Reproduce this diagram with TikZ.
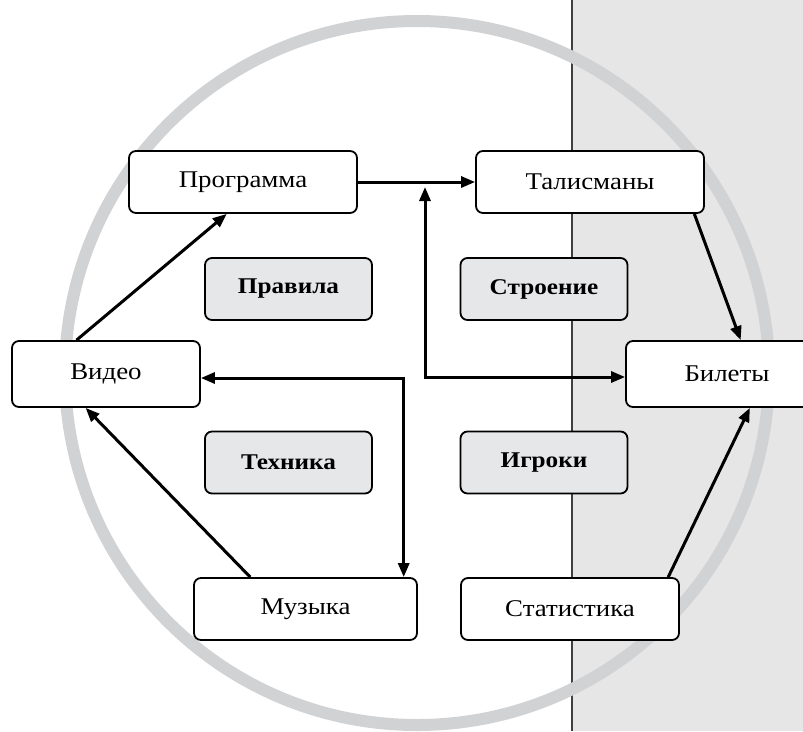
\documentclass[tikz,border=0pt]{standalone}
\usepackage{fontspec}
\setmainfont[FakeStretch=1.12]{Liberation Serif}
\usetikzlibrary{arrows.meta}

\definecolor{panelgray}{HTML}{E6E6E7}
\definecolor{ringgray}{HTML}{D1D2D4}
\definecolor{topicgray}{HTML}{E6E7E8}

\begin{document}
\begin{tikzpicture}[x=1pt, y=-1pt,
        >={Triangle[length=14pt,width=11pt]},
        box/.style = {draw, rectangle,
            rounded corners=7pt,
            line width=1.8pt,
            fill=white,
            minimum height=62pt,
            font=\fontsize{24}{28}\selectfont,
            },
        topic/.style = {box,
            fill=topicgray,
            minimum width=167pt,
            font=\fontsize{22.5}{27}\selectfont\bfseries,
            },
        link/.style = {line width=3pt}]

    \useasboundingbox (0,0) rectangle (803,731);

    % Right panel
    \fill[panelgray] (572,0) rectangle (803,731);
    \draw[line width=1.2pt, black!75] (572,0) -- (572,731);

    % Ring
    \draw[ringgray, line width=12pt] (417,373) circle[radius=352pt];

    % Outer boxes
    \node[box, minimum width=228pt] (prog) at (243,182) {Программа};
    \node[box, minimum width=228pt] (talis) at (590,182) {Талисманы};
    \node[box, minimum width=188pt, minimum height=66pt] (video) at (106,374) {Видео};
    \node[box, minimum width=202pt, minimum height=66pt] (bilet) at (727,374) {Билеты};
    \node[box, minimum width=223pt] (muz) at (305.5,609) {Музыка};
    \node[box, minimum width=218pt] (stat) at (570,609) {Статистика};

    % Inner boxes
    \node[topic] (prav) at (288.5,289) {Правила};
    \node[topic] (stroe) at (544,289) {Строение};
    \node[topic] (tekh) at (288.5,462.5) {Техника};
    \node[topic] (igr) at (544,462.5) {Игроки};

    % Arrows
    \coordinate (up) at (425,187);
    \draw[link, ->] (prog.east) -- (talis.west);
    \draw[link, ->] (talis.343) -- (bilet.68);
    \draw[link, ->] (stat.18) -- (bilet.304);
    \draw[link, ->] (muz.150) -- (video.239);
    \draw[link, ->] (video.131) -- (prog.243);
    \draw[link, <->] (up) |- ([yshift=-3pt]bilet.west);
    \draw[link, <->] ([yshift=-4pt]video.east) -| (muz.18);

\end{tikzpicture}
\end{document}
